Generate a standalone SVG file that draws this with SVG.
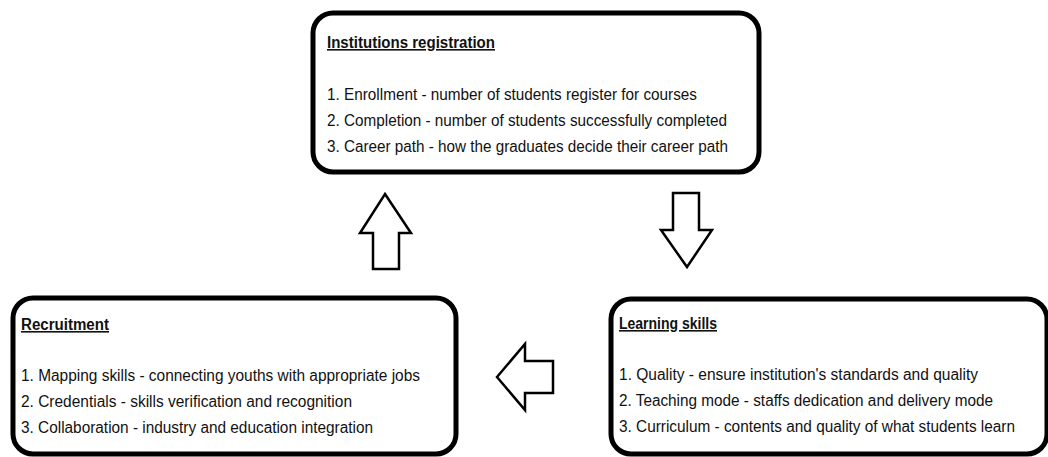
<svg xmlns="http://www.w3.org/2000/svg" width="1048" height="457" viewBox="0 0 1048 457">
  <style>
    .box { fill: #ffffff; stroke: #000000; stroke-width: 5; }
    .arrow { fill: #ffffff; stroke: #000000; stroke-width: 2.5; stroke-linejoin: miter; }
    .head { font-family: "Liberation Sans", Arial, sans-serif; font-size: 16px; font-weight: bold; fill: #111111; text-decoration: underline; }
    .item { font-family: "Liberation Sans", Arial, sans-serif; font-size: 16px; fill: #111111; }
  </style>
  <rect width="1048" height="457" fill="#ffffff"/>

  <g id="connectors">
    <polygon class="arrow" points="385,194 411,233 399,233 399,269 373,269 373,233 360,233"/>
    <polygon class="arrow" points="673,193 699,193 699,230 712,230 687,267 661,230 673,230"/>
    <polygon class="arrow" points="497,377 525,344 525,361 553,361 553,393 525,393 525,410"/>
  </g>

  <g id="institutions-registration">
    <rect class="box" x="313" y="13" width="446" height="159" rx="20" ry="20"/>
    <text class="head" x="327" y="48" textLength="168" lengthAdjust="spacingAndGlyphs">Institutions registration</text>
    <text class="item" x="327" y="100" textLength="370" lengthAdjust="spacingAndGlyphs">1. Enrollment - number of students register for courses</text>
    <text class="item" x="327" y="126" textLength="400" lengthAdjust="spacingAndGlyphs">2. Completion - number of students successfully completed</text>
    <text class="item" x="327" y="152" textLength="401" lengthAdjust="spacingAndGlyphs">3. Career path - how the graduates decide their career path</text>
  </g>

  <g id="recruitment">
    <rect class="box" x="13" y="298" width="443" height="156" rx="20" ry="20"/>
    <text class="head" x="21" y="330" textLength="88" lengthAdjust="spacingAndGlyphs">Recruitment</text>
    <text class="item" x="21" y="381" textLength="399" lengthAdjust="spacingAndGlyphs">1. Mapping skills - connecting youths with appropriate jobs</text>
    <text class="item" x="21" y="407" textLength="331" lengthAdjust="spacingAndGlyphs">2. Credentials - skills verification and recognition</text>
    <text class="item" x="21" y="433" textLength="352" lengthAdjust="spacingAndGlyphs">3. Collaboration - industry and education integration</text>
  </g>

  <g id="learning-skills">
    <rect class="box" x="611" y="299" width="436" height="155" rx="20" ry="20"/>
    <text class="head" x="619" y="329" textLength="98" lengthAdjust="spacingAndGlyphs">Learning skills</text>
    <text class="item" x="619" y="380" textLength="359" lengthAdjust="spacingAndGlyphs">1. Quality - ensure institution's standards and quality</text>
    <text class="item" x="619" y="406" textLength="374" lengthAdjust="spacingAndGlyphs">2. Teaching mode - staffs dedication and delivery mode</text>
    <text class="item" x="619" y="432" textLength="396" lengthAdjust="spacingAndGlyphs">3. Curriculum - contents and quality of what students learn</text>
  </g>
</svg>
